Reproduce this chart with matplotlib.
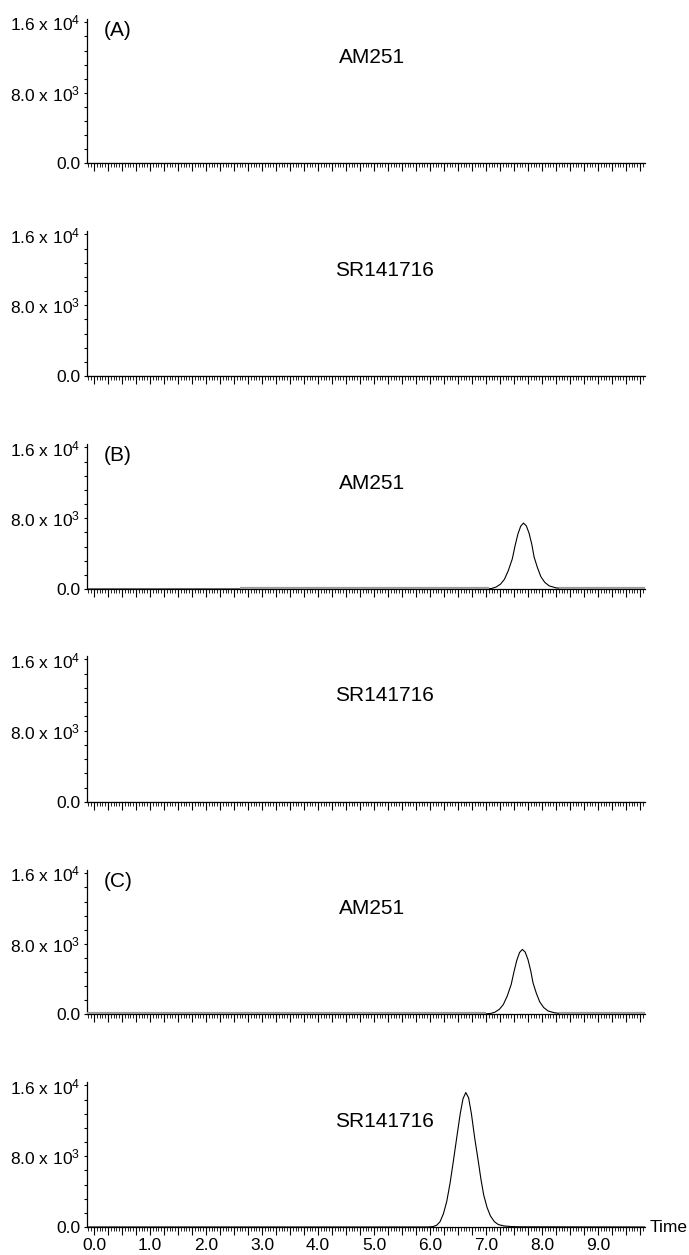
import matplotlib
matplotlib.use('Agg')
import matplotlib.pyplot as plt
from matplotlib.ticker import MultipleLocator, FuncFormatter

plt.rcParams['font.family'] = ['Liberation Sans', 'DejaVu Sans']
plt.rcParams['mathtext.fontset'] = 'custom'
plt.rcParams['mathtext.rm'] = 'Liberation Sans'
plt.rcParams['mathtext.default'] = 'regular'

# chromatogram traces (time in min, intensity in counts)
time_empty = [-0.125, 9.84]
int_empty = [0, 0]

time_b_am251 = [-0.125, 7.00, 7.10, 7.18, 7.26, 7.33, 7.40, 7.47, 7.52, 7.57, 7.62, 7.67,
                7.72, 7.77, 7.82, 7.86, 7.92, 7.98, 8.05, 8.13, 8.25, 8.40, 9.84]
int_b_am251 = [0, 0, 60, 220, 550, 1100, 2100, 3400, 4900, 6200, 7100, 7450,
               7150, 6300, 5000, 3600, 2400, 1400, 750, 350, 130, 40, 0]

time_c_am251 = [-0.125, 6.98, 7.08, 7.16, 7.24, 7.31, 7.38, 7.45, 7.50, 7.55, 7.60, 7.65,
                7.70, 7.75, 7.80, 7.84, 7.90, 7.96, 8.03, 8.11, 8.23, 8.38, 9.84]
int_c_am251 = [0, 0, 60, 210, 540, 1080, 2050, 3350, 4800, 6100, 7000, 7350,
               7050, 6200, 4900, 3550, 2350, 1380, 740, 340, 130, 40, 0]

time_c_sr = [-0.125, 5.95, 6.05, 6.12, 6.18, 6.24, 6.30, 6.36, 6.42, 6.48, 6.54, 6.59, 6.64,
             6.69, 6.74, 6.80, 6.86, 6.91, 6.96, 7.02, 7.08, 7.15, 7.22, 7.32, 7.45, 7.60, 9.84]
int_c_sr = [0, 0, 40, 200, 600, 1500, 2900, 5000, 7550, 10200, 12800, 14500, 15200,
            14600, 12800, 10000, 7550, 5400, 3600, 2200, 1250, 600, 280, 120, 50, 20, 0]

names = ['AM251', 'SR141716', 'AM251', 'SR141716', 'AM251', 'SR141716']
letters = ['(A)', '', '(B)', '', '(C)', '']
traces = [(time_empty, int_empty), (time_empty, int_empty),
          (time_b_am251, int_b_am251), (time_empty, int_empty),
          (time_c_am251, int_c_am251), (time_c_sr, int_c_sr)]
# grey noise baseline segments
grey_ranges = [[], [], [(2.6, 7.05), (8.3, 9.84)], [], [(-0.125, 7.0), (8.3, 9.84)], []]

tops = [19, 231, 444, 656, 870, 1082]
bottoms = [163, 376, 589, 802, 1014, 1227]

fig = plt.figure(figsize=(6.89, 12.55), dpi=100)

for i in range(6):
    h = bottoms[i] - tops[i]
    ax = fig.add_axes([87 / 689, 1 - bottoms[i] / 1255, 558 / 689, h / 1255])
    t, y = traces[i]
    ax.plot(t, y, color='black', lw=0.8, zorder=3)
    for a, b in grey_ranges[i]:
        ax.plot([a, b], [120, 120], color='#9a9a9a', lw=1.6, zorder=4, solid_capstyle='butt')

    ax.set_xlim(-0.125, 9.84)
    ax.set_ylim(0, 16390)
    for s in ['top', 'right']:
        ax.spines[s].set_visible(False)
    for s in ['left', 'bottom']:
        ax.spines[s].set_linewidth(0.9)

    ax.set_yticks([0, 8000, 16000])
    ax.set_yticklabels(['0.0', '8.0 x 10$^3$', '1.6 x 10$^4$'])
    ax.yaxis.set_minor_locator(MultipleLocator(1600))
    ax.tick_params(axis='y', which='both', direction='out', length=2, width=0.8,
                   labelsize=12.5, pad=3)

    ax.xaxis.set_major_locator(MultipleLocator(0.25))
    ax.xaxis.set_minor_locator(MultipleLocator(0.05))
    ax.tick_params(axis='x', which='major', direction='out', length=6, width=0.8,
                   labelsize=12.5, pad=2)
    ax.tick_params(axis='x', which='minor', direction='out', length=3, width=0.6)
    if i == 5:
        ax.xaxis.set_major_formatter(FuncFormatter(
            lambda v, p: '%.1f' % v if abs(v - round(v)) < 1e-6 and 0 <= v <= 9 else ''))
        ax.text(1.009, 0, 'Time', transform=ax.transAxes, ha='left', va='center', fontsize=12.5)
    else:
        ax.set_xticklabels([])

    nx = 0.51 if names[i] == 'AM251' else 0.534
    ax.text(nx, 0.73, names[i], transform=ax.transAxes, ha='center', va='center', fontsize=15)
    if letters[i]:
        ax.text(0.03, 0.92, letters[i], transform=ax.transAxes, ha='left', va='center',
                fontsize=15)

fig.savefig('out.png', dpi=100)
